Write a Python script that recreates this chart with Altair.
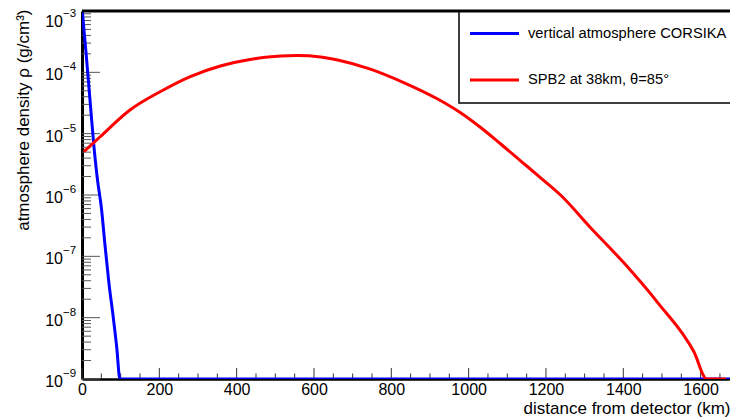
import altair as alt
import pandas as pd

# ---- data ----
vert_km = [0, 10, 20, 30, 40, 50, 60, 70, 80, 90, 98, 100, 1700]
vert_rho = [1.12e-3, 2.24e-4, 4.0e-5, 7.1e-6, 1.78e-6, 6.3e-7, 1.41e-7, 3.5e-8, 1.12e-8, 3.2e-9, 1.0e-9, 1.0e-9, 1.0e-9]

spb_km = [5, 47, 124, 202, 280, 358, 435, 513, 557, 617, 661, 746, 832, 920, 980,
          1031, 1083, 1135, 1187, 1239, 1316, 1402, 1490, 1583, 1616, 1666]
spb_rho = [5.08e-6, 8.91e-6, 2.43e-5, 4.83e-5, 8.55e-5, 1.27e-4, 1.62e-4, 1.85e-4, 1.88e-4,
           1.78e-4, 1.59e-4, 1.13e-4, 6.82e-5, 3.67e-5, 2.17e-5, 1.26e-5, 6.78e-6, 3.58e-6,
           1.89e-6, 9.8e-7, 2.9e-7, 7.76e-8, 1.73e-8, 2.75e-9, 1.0e-9, 1.0e-9]

series_names = ["vertical atmosphere CORSIKA", "SPB2 at 38km, \u03b8=85\u00b0"]
series_colors = ["#0000ff", "#ff0000"]

x_major = [0, 200, 400, 600, 800, 1000, 1200, 1400, 1600]
x_minor = [v for v in range(50, 1700, 50) if v % 200 != 0]
y_major = [1e-9, 1e-8, 1e-7, 1e-6, 1e-5, 1e-4, 1e-3]
y_label_base = "10"
y_label_sup = ["\u22129", "\u22128", "\u22127", "\u22126", "\u22125", "\u22124", "\u22123"]
y_minor = [k * 10.0 ** e for e in range(-9, -3) for k in range(2, 10)]

x_title = "distance from detector (km)"
y_title = "atmosphere density \u03c1 (g/cm\u00b3)"

df = pd.concat([
    pd.DataFrame({"series": series_names[0], "km": vert_km, "rho": vert_rho}),
    pd.DataFrame({"series": series_names[1], "km": spb_km, "rho": spb_rho}),
])

W, H = 648, 368
FONT = "Liberation Sans"

xscale = alt.Scale(domain=[0, 1676], nice=False, zero=False)
yscale = alt.Scale(type="log", domain=[1e-9, 1e-3], nice=False)

lines = alt.Chart(df).mark_line(strokeWidth=3, clip=True, interpolate="monotone").encode(
    x=alt.X("km:Q", scale=xscale,
            axis=alt.Axis(title=x_title, values=x_major, format="d", ticks=False,
                          tickSize=0, labelPadding=2, labelFlush=False, labelFontSize=16,
                          labelFont=FONT, labelColor="black", titleFont=FONT, titleFontSize=17,
                          titleFontWeight="normal", titleColor="black", titleAnchor="end",
                          titleAlign="right", titlePadding=3, domainColor="black",
                          domainWidth=2.5, grid=False)),
    y=alt.Y("rho:Q", scale=yscale,
            axis=alt.Axis(title=y_title, values=y_major, ticks=False, tickSize=0, labels=False,
                          titleFont=FONT, titleFontSize=17, titleFontWeight="normal",
                          titleColor="black", titleAnchor="end", titlePadding=50, titleY=-2,
                          domainColor="black", domainWidth=3, grid=False)),
    color=alt.Color("series:N", scale=alt.Scale(domain=series_names, range=series_colors),
                    legend=None),
)

xmaj = alt.Chart(pd.DataFrame({"v": x_major})).mark_rule(color="#333", strokeWidth=1).encode(
    x=alt.X("v:Q", scale=xscale), y=alt.value(H), y2=alt.value(H - 11))
xmin = alt.Chart(pd.DataFrame({"v": x_minor})).mark_rule(color="#333", strokeWidth=1).encode(
    x=alt.X("v:Q", scale=xscale), y=alt.value(H), y2=alt.value(H - 5.5))
ymaj = alt.Chart(pd.DataFrame({"v": y_major})).mark_rule(color="#555", strokeWidth=1).encode(
    y=alt.Y("v:Q", scale=yscale), x=alt.value(0), x2=alt.value(18))
ymin = alt.Chart(pd.DataFrame({"v": y_minor})).mark_rule(color="#555", strokeWidth=1).encode(
    y=alt.Y("v:Q", scale=yscale), x=alt.value(0), x2=alt.value(9))
topline = alt.Chart(pd.DataFrame({"v": [0]})).mark_rule(color="black", strokeWidth=3).encode(
    x=alt.value(0), x2=alt.value(W), y=alt.value(0))

# y tick labels "10" with superscript exponent
lab = pd.DataFrame({"v": y_major, "base": y_label_base, "sup": y_label_sup})
lab_low, lab_top = lab.iloc[:-1], lab.iloc[-1:]
ylabels = []
for d, shift in ((lab_low, 3), (lab_top, 11)):
    ylabels.append(alt.Chart(d).mark_text(align="right", baseline="middle", dy=shift,
                                          fontSize=16, font=FONT, color="black").encode(
        y=alt.Y("v:Q", scale=yscale), x=alt.value(-19), text="base:N"))
    ylabels.append(alt.Chart(d).mark_text(align="left", baseline="middle", dy=shift - 8,
                                          fontSize=11.5, font=FONT, color="black").encode(
        y=alt.Y("v:Q", scale=yscale), x=alt.value(-19), text="sup:N"))

# legend box (ROOT TLegend style)
leg_box = alt.Chart(pd.DataFrame({"v": [0]})).mark_rect(
    fill="white", stroke="black", strokeWidth=1.5, clip=False).encode(
    x=alt.value(377), x2=alt.value(W + 12), y=alt.value(0), y2=alt.value(92))
leg_layers = [leg_box]
for i, (name, col) in enumerate(zip(series_names, series_colors)):
    yy = 22.5 + 46.5 * i
    leg_layers.append(alt.Chart(pd.DataFrame({"series": [name]})).mark_rule(
        color=col, strokeWidth=3).encode(x=alt.value(388), x2=alt.value(437), y=alt.value(yy)))
    leg_layers.append(alt.Chart(pd.DataFrame({"series": [name]})).mark_text(
        align="left", baseline="middle", fontSize=14.7, font=FONT, color="black").encode(
        x=alt.value(446), y=alt.value(yy), text="series:N"))

chart = alt.layer(xmaj, xmin, ymaj, ymin, lines, *ylabels, *leg_layers, topline).properties(
    width=W, height=H,
    padding={"left": 74, "top": 3, "right": 0, "bottom": 40},
    autosize=alt.AutoSizeParams(type="none"),
).configure_view(stroke=None).configure(background="white")

chart.save("out.html", embed_options={"renderer": "svg", "actions": False})
